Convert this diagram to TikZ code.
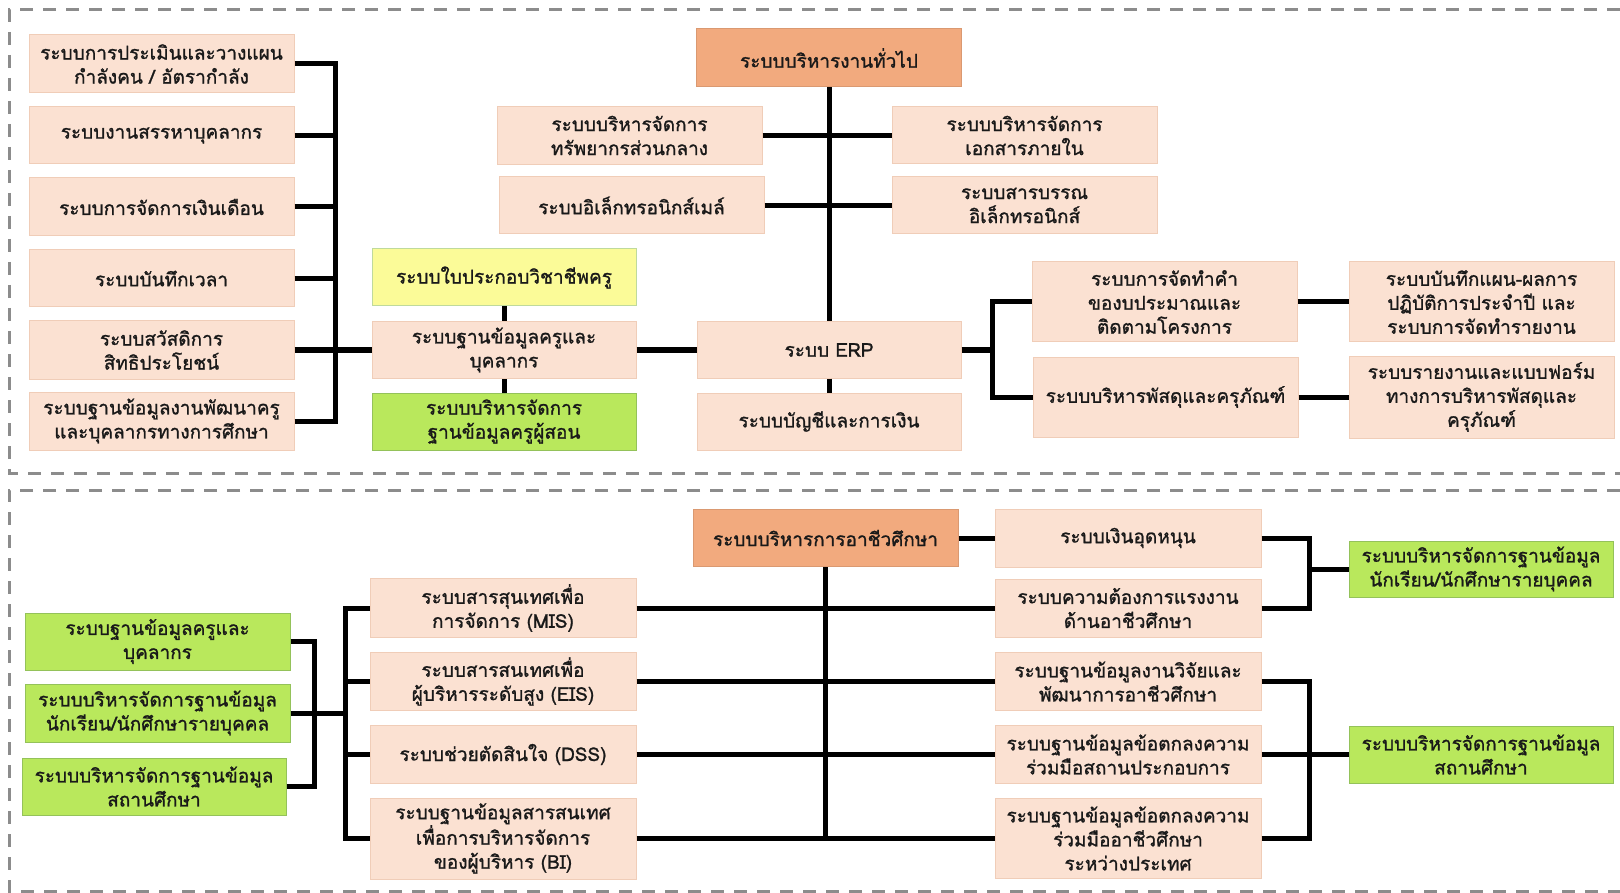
\documentclass[tikz,border=0pt]{standalone}
\usepackage{fontspec}
\newfontfamily\thaifont[Script=Thai,FakeBold=1.2]{Loma}
\definecolor{peach}{HTML}{FBE1D2}
\definecolor{peachline}{HTML}{F0CDB8}
\definecolor{orangebox}{HTML}{F2AA7E}
\definecolor{yellowbox}{HTML}{FBFB98}
\definecolor{greenbox}{HTML}{B9E85C}
\definecolor{greenline}{HTML}{94C25A}
\definecolor{framegray}{HTML}{8C8C8C}
\tikzset{
  box/.style={rectangle, draw=peachline, fill=peach, line width=1pt, inner sep=0pt,
    align=center, font=\thaifont\fontsize{19}{24}\selectfont, text=black!90},
  obox/.style={box, fill=orangebox, draw=orangebox!90!black},
  ybox/.style={box, fill=yellowbox, draw=greenline!60},
  gbox/.style={box, fill=greenbox, draw=greenline},
  link/.style={line width=5pt, draw=black, line join=miter},
  frameline/.style={draw=framegray, line width=3pt, dash pattern=on 13pt off 10pt},
}
\begin{document}
\begin{tikzpicture}[x=1pt, y=-1pt]
\useasboundingbox (0,0) rectangle (1620,893);
% frames
\draw[frameline] (1620,10) -- (9,10) -- (9,473) -- (1620,473);
\draw[frameline] (1620,490) -- (9,490) -- (9,891) -- (1620,891);

% ---------- upper section ----------
\node[box, minimum width=265pt, minimum height=58pt] (L1) at (161.5,64) {ระบบการประเมินและวางแผน\\กำลังคน / อัตรากำลัง};
\node[box, minimum width=265pt, minimum height=57pt] (L2) at (161.5,135.5) {ระบบงานสรรหาบุคลากร};
\node[box, minimum width=265pt, minimum height=58pt] (L3) at (161.5,207) {ระบบการจัดการเงินเดือน};
\node[box, minimum width=265pt, minimum height=57pt] (L4) at (161.5,278.5) {ระบบบันทึกเวลา};
\node[box, minimum width=265pt, minimum height=58pt] (L5) at (161.5,350) {ระบบสวัสดิการ\\สิทธิประโยชน์};
\node[box, minimum width=265pt, minimum height=58pt] (L6) at (161.5,421) {ระบบฐานข้อมูลงานพัฒนาครู\\และบุคลากรทางการศึกษา};

\node[ybox, minimum width=264pt, minimum height=57pt] (Y1) at (504,277.5) {ระบบใบประกอบวิชาชีพครู};
\node[box, minimum width=264pt, minimum height=57pt] (M1) at (504,350) {ระบบฐานข้อมูลครูและ\\บุคลากร};
\node[gbox, minimum width=264pt, minimum height=57pt] (G1) at (504,421.5) {ระบบบริหารจัดการ\\ฐานข้อมูลครูผู้สอน};

\node[obox, minimum width=265pt, minimum height=58pt] (T) at (829,58) {ระบบบริหารงานทั่วไป};
\node[box, minimum width=265pt, minimum height=58pt] (C1) at (629.5,135.5) {ระบบบริหารจัดการ\\ทรัพยากรส่วนกลาง};
\node[box, minimum width=265pt, minimum height=57pt] (C2) at (631.5,205.5) {ระบบอิเล็กทรอนิกส์เมล์};
\node[box, minimum width=265pt, minimum height=57pt] (R1) at (1024.5,135.5) {ระบบบริหารจัดการ\\เอกสารภายใน};
\node[box, minimum width=265pt, minimum height=57pt] (R2) at (1024.5,205.5) {ระบบสารบรรณ\\อิเล็กทรอนิกส์};

\node[box, minimum width=264pt, minimum height=56pt] (ERP) at (829,350) {ระบบ ERP};
\node[box, minimum width=264pt, minimum height=57pt] (ACC) at (829,421.5) {ระบบบัญชีและการเงิน};

\node[box, minimum width=265pt, minimum height=80pt] (B1) at (1164.5,302) {ระบบการจัดทำคำ\\ของบประมาณและ\\ติดตามโครงการ};
\node[box, minimum width=265pt, minimum height=80pt] (B2) at (1165.5,397) {ระบบบริหารพัสดุและครุภัณฑ์};
\node[box, minimum width=265pt, minimum height=80pt] (E1) at (1481.5,302) {ระบบบันทึกแผน-ผลการ\\ปฏิบัติการประจำปี และ\\ระบบการจัดทำรายงาน};
\node[box, minimum width=265pt, minimum height=82pt] (E2) at (1481.5,397) {ระบบรายงานและแบบฟอร์ม\\ทางการบริหารพัสดุและ\\ครุภัณฑ์};

\coordinate (busL) at (335,350);
\coordinate (erpb) at (992,350);

\foreach \n in {L1,L2,L3,L4,L5,L6} {\draw[link] (\n.east) -| (busL);}
\draw[link] (busL) -- (M1.west);
\draw[link] (Y1.south) -- (M1.north);
\draw[link] (M1.south) -- (G1.north);
\draw[link] (M1.east) -- (ERP.west);
\draw[link] (T.south) -- (ERP.north);
\draw[link] (C1.east) -- (R1.west);
\draw[link] (C2.east) -- (R2.west);
\draw[link] (ERP.south) -- (ACC.north);
\draw[link] (ERP.east) -- (erpb);
\draw[link] (B1.west) -| (erpb);
\draw[link] (B2.west) -| (erpb);
\draw[link] (B1.east) -- (E1.west);
\draw[link] (B2.east) -- (E2.west);

% ---------- lower section ----------
\node[obox, minimum width=265pt, minimum height=57pt] (O) at (825.5,538) {ระบบบริหารการอาชีวศึกษา};
\node[box, minimum width=266pt, minimum height=58pt] (Q1) at (1128,538) {ระบบเงินอุดหนุน};
\node[box, minimum width=266pt, minimum height=58pt] (Q2) at (1128,608) {ระบบความต้องการแรงงาน\\ด้านอาชีวศึกษา};
\node[box, minimum width=266pt, minimum height=58pt] (Q3) at (1128,681.5) {ระบบฐานข้อมูลงานวิจัยและ\\พัฒนาการอาชีวศึกษา};
\node[box, minimum width=266pt, minimum height=58pt] (Q4) at (1128,754.5) {ระบบฐานข้อมูลข้อตกลงความ\\ร่วมมือสถานประกอบการ};
\node[box, minimum width=266pt, minimum height=80pt] (Q5) at (1128,838.5) {ระบบฐานข้อมูลข้อตกลงความ\\ร่วมมืออาชีวศึกษา\\ระหว่างประเทศ};

\node[box, minimum width=266pt, minimum height=59pt] (P1) at (503,608) {ระบบสารสุนเทศเพื่อ\\การจัดการ (MIS)};
\node[box, minimum width=266pt, minimum height=58pt] (P2) at (503,681.5) {ระบบสารสนเทศเพื่อ\\ผู้บริหารระดับสูง (EIS)};
\node[box, minimum width=266pt, minimum height=58pt] (P3) at (503,754.5) {ระบบช่วยตัดสินใจ (DSS)};
\node[box, minimum width=266pt, minimum height=81pt] (P4) at (503,838.5) {ระบบฐานข้อมูลสารสนเทศ\\เพื่อการบริหารจัดการ\\ของผู้บริหาร (BI)};

\node[gbox, minimum width=265pt, minimum height=57pt] (GL1) at (157.5,641.5) {ระบบฐานข้อมูลครูและ\\บุคลากร};
\node[gbox, minimum width=265pt, minimum height=58pt] (GL2) at (157.5,713) {ระบบบริหารจัดการฐานข้อมูล\\นักเรียน/นักศึกษารายบุคคล};
\node[gbox, minimum width=264pt, minimum height=57pt] (GL3) at (154,786.5) {ระบบบริหารจัดการฐานข้อมูล\\สถานศึกษา};

\node[gbox, minimum width=264pt, minimum height=56pt] (RG1) at (1481,569) {ระบบบริหารจัดการฐานข้อมูล\\นักเรียน/นักศึกษารายบุคคล};
\node[gbox, minimum width=264pt, minimum height=57pt] (RG2) at (1481,754.5) {ระบบบริหารจัดการฐานข้อมูล\\สถานศึกษา};

\coordinate (lb) at (314,713);
\coordinate (rbus) at (345,713);
\coordinate (rb1) at (1309,569);
\coordinate (rb2) at (1309,754.5);

\draw[link] (O.east) -- (Q1.west);
\draw[link] (O.south) -- (O.south |- Q5.west);
\draw[link] (P1.east) -- (Q2.west);
\draw[link] (P2.east) -- (Q3.west);
\draw[link] (P3.east) -- (Q4.west);
\draw[link] (P4.east) -- (Q5.west);

\draw[link] (GL1.east) -| (lb);
\draw[link] (GL3.east) -| (lb);
\draw[link] (GL2.east) -- (rbus);
\foreach \n in {P1,P2,P3,P4} {\draw[link] (\n.west) -| (rbus);}

\draw[link] (Q1.east) -| (rb1);
\draw[link] (Q2.east) -| (rb1);
\draw[link] (rb1) -- (RG1.west);
\draw[link] (Q3.east) -| (rb2);
\draw[link] (Q5.east) -| (rb2);
\draw[link] (Q4.east) -- (RG2.west);
\end{tikzpicture}
\end{document}
